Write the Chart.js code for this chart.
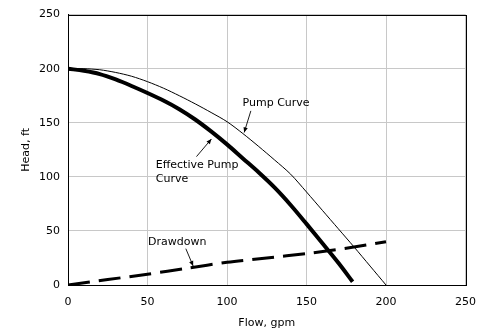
<!DOCTYPE html>
<html>
<head>
<meta charset="utf-8">
<script src="https://cdn.jsdelivr.net/npm/chart.js@4/dist/chart.umd.min.js"></script>
<style>
  html, body { margin: 0; padding: 0; background: #fff; }
  #wrap { width: 480px; height: 336px; }
</style>
</head>
<body>
<div id="wrap"><canvas id="myChart"></canvas></div>
<script>
// flow, gpm
const pumpFlow = [0, 10, 20, 30, 40, 50, 60, 70, 80, 90, 100, 110, 120, 130, 140, 150, 160, 170, 180, 190, 200];
const pumpHead = [200, 200, 199, 196.5, 193, 188, 182, 175, 167.5, 159.5, 151, 140, 128, 115.5, 102.5, 86, 69, 52, 35, 17.5, 0];

const effFlow = [0, 10, 20, 30, 40, 50, 60, 70, 80, 90, 100, 110, 120, 130, 140, 150, 160, 170, 179];
const effHead = [200, 198, 195, 190, 184, 177.5, 170.5, 162.5, 153, 142, 130, 117, 104, 90, 74, 56.5, 38.5, 20.5, 3];

const drawFlow = [0, 25, 50, 75, 100, 125, 150, 175, 200];
const drawHead = [0, 5, 10, 15.5, 21, 25, 29, 34, 40];

const xTicks = [0, 50, 100, 150, 200, 250];
const yTicks = [0, 50, 100, 150, 200, 250];

const toPoints = (xs, ys) => xs.map((x, i) => ({ x: x, y: ys[i] }));

// callout labels, in data units
const callouts = [
    { lines: ['Pump Curve'], x: 109.8, y: 168.4, from: [115, 161], to: [110.8, 141] },
    { lines: ['Effective Pump', 'Curve'], x: 55.2, y: 111, from: [80.8, 118.7], to: [90.2, 135] },
    { lines: ['Drawdown'], x: 50.3, y: 39.8, from: [74.1, 33.6], to: [78.7, 17.6] },
];

const FONT = '"DejaVu Sans", Verdana, sans-serif';

const calloutPlugin = {
    id: 'callouts',
    afterDatasetsDraw(chart) {
        const ctx = chart.ctx;
        const xs = chart.scales.x, ys = chart.scales.y;
        const a = chart.chartArea;
        ctx.save();
        // frame
        ctx.strokeStyle = '#000';
        ctx.lineWidth = 1;
        ctx.strokeRect(Math.round(a.left) + 0.5, Math.round(a.top) + 0.5,
            Math.round(a.right - a.left), Math.round(a.bottom - a.top));

        ctx.font = '11px ' + FONT;
        ctx.fillStyle = '#000';
        ctx.textBaseline = 'middle';
        ctx.textAlign = 'left';
        callouts.forEach(c => {
            const px = xs.getPixelForValue(c.x);
            const py = ys.getPixelForValue(c.y);
            c.lines.forEach((t, i) => ctx.fillText(t, px, py + i * 14.5));

            const x1 = xs.getPixelForValue(c.from[0]), y1 = ys.getPixelForValue(c.from[1]);
            const x2 = xs.getPixelForValue(c.to[0]), y2 = ys.getPixelForValue(c.to[1]);
            ctx.beginPath();
            ctx.moveTo(x1, y1);
            ctx.lineTo(x2, y2);
            ctx.lineWidth = 0.9;
            ctx.stroke();
            const ang = Math.atan2(y2 - y1, x2 - x1);
            const L = 5, W = 2.2;
            ctx.beginPath();
            ctx.moveTo(x2, y2);
            ctx.lineTo(x2 - L * Math.cos(ang) + W * Math.sin(ang), y2 - L * Math.sin(ang) - W * Math.cos(ang));
            ctx.lineTo(x2 - L * Math.cos(ang) - W * Math.sin(ang), y2 - L * Math.sin(ang) + W * Math.cos(ang));
            ctx.closePath();
            ctx.fill();
        });
        ctx.restore();
    }
};

const data = {
    datasets: [{
        label: 'Pump Curve',
        data: toPoints(pumpFlow, pumpHead),
        borderColor: '#000',
        borderWidth: 1,
        pointRadius: 0,
        tension: 0.3,
    }, {
        label: 'Effective Pump Curve',
        data: toPoints(effFlow, effHead),
        borderColor: '#000',
        borderWidth: 4,
        pointRadius: 0,
        cubicInterpolationMode: 'monotone',
    }, {
        label: 'Drawdown',
        data: toPoints(drawFlow, drawHead),
        borderColor: '#000',
        borderWidth: 3,
        borderDash: [22, 9],
        pointRadius: 0,
        tension: 0.3,
    }]
};

const tickFont = { family: FONT, size: 11 };

const options = {
    animation: false,
    responsive: true,
    maintainAspectRatio: false,
    layout: { padding: { top: 8, right: 14.5, left: 0, bottom: 0 } },
    plugins: {
        legend: { display: false },
        tooltip: { enabled: false }
    },
    scales: {
        x: {
            type: 'linear',
            min: 0,
            max: 250,
            afterBuildTicks: s => { s.ticks = xTicks.map(v => ({ value: v })); },
            afterFit: s => { s.height = 51; s.paddingRight = 0; s.paddingLeft = 0; },
            ticks: { font: tickFont, color: '#000', padding: 11, maxRotation: 0 },
            grid: { color: '#c8c8c8', drawTicks: false },
            border: { color: '#000' },
            title: { display: true, text: 'Flow, gpm', font: tickFont, color: '#000', padding: { top: 0, bottom: 6 } }
        },
        y: {
            type: 'linear',
            min: 0,
            max: 250,
            afterBuildTicks: s => { s.ticks = yTicks.map(v => ({ value: v })); },
            afterFit: s => { s.width = 68; },
            ticks: { font: tickFont, color: '#000', padding: 8 },
            grid: { color: '#c8c8c8', drawTicks: false },
            border: { color: '#000' },
            title: { display: true, text: 'Head, ft', font: tickFont, color: '#000', padding: { top: 20, bottom: 0 } }
        }
    }
};

const config = {
    type: 'line',
    data,
    options,
    plugins: [calloutPlugin]
};

const myChart = new Chart(document.getElementById('myChart'), config);
</script>
</body>
</html>
